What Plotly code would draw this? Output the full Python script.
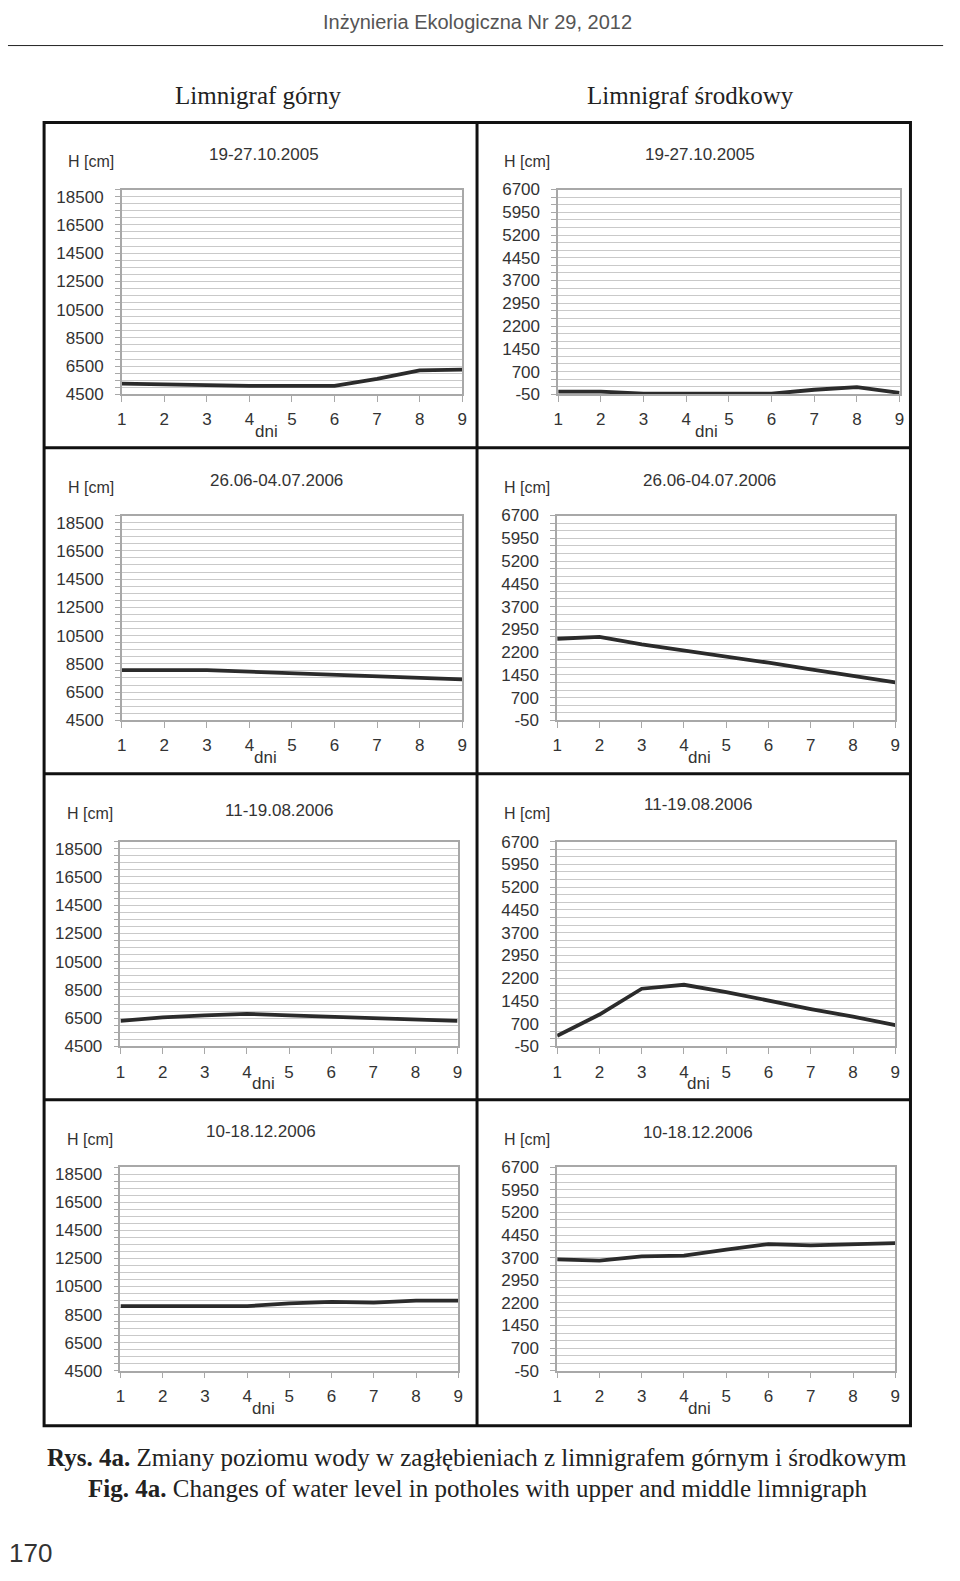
import plotly.graph_objects as go

# ---------------- data ----------------
days = [1, 2, 3, 4, 5, 6, 7, 8, 9]
periods = ["19-27.10.2005", "26.06-04.07.2006", "11-19.08.2006", "10-18.12.2006"]

upper_2005_10 = [5250, 5200, 5100, 5100, 5100, 5100, 5600, 6200, 6250]
upper_2006_06 = [8050, 8050, 8050, 7950, 7850, 7750, 7650, 7500, 7400]
upper_2006_08 = [6300, 6550, 6700, 6800, 6700, 6600, 6500, 6400, 6300]
upper_2006_12 = [9100, 9100, 9100, 9100, 9300, 9400, 9350, 9500, 9500]

middle_2005_10 = [40, 40, -30, -30, -30, -30, 100, 190, 0]
middle_2006_06 = [2640, 2700, 2450, 2260, 2050, 1850, 1630, 1420, 1200]
middle_2006_08 = [300, 1000, 1850, 1980, 1740, 1450, 1180, 930, 650]
middle_2006_12 = [3640, 3600, 3740, 3770, 3970, 4150, 4110, 4130, 4180]

upper_ticks = [4500, 6500, 8500, 10500, 12500, 14500, 16500, 18500]
middle_ticks = [-50, 700, 1450, 2200, 2950, 3700, 4450, 5200, 5950, 6700]
upper_range = [4500, 19000]
middle_range = [-50, 6700]
upper_minor = 500
middle_minor = 250

upper_series = [upper_2005_10, upper_2006_06, upper_2006_08, upper_2006_12]
middle_series = [middle_2005_10, middle_2006_06, middle_2006_08, middle_2006_12]

# ---------------- layout geometry (pixels) ----------------
W, H = 960, 1581


def px(x):
    return x / W


def py(y):
    return 1 - y / H


left_x = [(118, 462), (118, 462), (116.7, 457.3), (116.7, 458)]
right_x = [(559, 904), (558, 899.7), (558, 899.7), (558, 899.7)]
rows_y = [(182.7, 390), (512.7, 720), (842.7, 1050), (1172.3, 1378.3)]

title_L = [(262, 147), (274, 477), (277, 811), (259, 1136)]
title_R = [(702, 147), (712, 477), (700, 805), (700, 1137)]
hcm_L = [(87, 154), (87, 484), (86, 814), (86, 1144)]
hcm_R = [(527, 154), (527, 484), (527, 814), (527, 1144)]
dni_L = [(264, 428), (263, 758), (261, 1088), (261, 1417)]
dni_R = [(709, 428), (702, 758), (701, 1088), (702, 1417)]

GRID = "#c9c9c9"
AXC = "#a8a8a8"
TXT = "#333333"
SANS = "Liberation Sans, Arial, sans-serif"
SERIF = "Liberation Serif, Times New Roman, serif"

fig = go.Figure()
layout = dict(
    width=W, height=H, margin=dict(l=0, r=0, t=0, b=0),
    paper_bgcolor="white", plot_bgcolor="white", showlegend=False,
)
annotations = []
shapes = []

k = 0
for col in range(2):
    for row in range(4):
        k += 1
        sfx = "" if k == 1 else str(k)
        if col == 0:
            ys = upper_series[row]
            xr = left_x[row]
            ticks = upper_ticks
            yrange = upper_range
            minor = upper_minor
            tpos, hpos, dpos = title_L[row], hcm_L[row], dni_L[row]
        else:
            ys = middle_series[row]
            xr = right_x[row]
            ticks = middle_ticks
            yrange = middle_range
            minor = middle_minor
            tpos, hpos, dpos = title_R[row], hcm_R[row], dni_R[row]
        top, bot = rows_y[row]
        fig.add_trace(go.Scatter(
            x=days, y=ys, mode="lines",
            line=dict(color="#2b2b2b", width=3.8),
            xaxis="x" + sfx, yaxis="y" + sfx, hoverinfo="skip",
        ))
        layout["xaxis" + sfx] = dict(
            domain=[px(xr[0]), px(xr[1])], anchor="y" + sfx,
            range=[1, 9], tickvals=days, ticktext=[str(d) for d in days],
            showgrid=False, zeroline=False,
            showline=True, linecolor=AXC, linewidth=1.5, mirror=True,
            ticks="outside", ticklen=6, tickcolor=AXC, tickwidth=1.2,
            tickfont=dict(family=SANS, size=17, color=TXT),
            ticklabelstandoff=3,
        )
        layout["yaxis" + sfx] = dict(
            domain=[py(bot), py(top)], anchor="x" + sfx,
            range=yrange, tickvals=ticks, ticktext=[str(t) for t in ticks],
            showgrid=True, gridcolor=GRID, gridwidth=1.4,
            zeroline=False,
            showline=True, linecolor=AXC, linewidth=1.5, mirror=True,
            ticks="outside", ticklen=5, tickcolor=AXC, tickwidth=1.2,
            tickfont=dict(family=SANS, size=17, color=TXT),
            ticklabelstandoff=8,
            minor=dict(tick0=yrange[0], dtick=minor, showgrid=True,
                       gridcolor=GRID, gridwidth=1.4, ticks="outside",
                       ticklen=5, tickcolor=AXC, tickwidth=1.0),
        )
        annotations.append(dict(
            text=periods[row], x=px(tpos[0]), y=py(tpos[1]),
            xref="paper", yref="paper", xanchor="center", yanchor="middle",
            showarrow=False, font=dict(family=SANS, size=17, color=TXT)))
        annotations.append(dict(
            text="H [cm]", x=px(hpos[0]), y=py(hpos[1]),
            xref="paper", yref="paper", xanchor="center", yanchor="middle",
            showarrow=False, font=dict(family=SANS, size=16, color=TXT)))
        annotations.append(dict(
            text="dni", x=px(dpos[0]), y=py(dpos[1]),
            xref="paper", yref="paper", xanchor="center", yanchor="middle",
            showarrow=False, font=dict(family=SANS, size=17, color=TXT)))

# frame of the panel grid
FL, FR, FT, FB = 39.5, 915, 115, 1434
shapes.append(dict(type="rect", xref="paper", yref="paper",
                   x0=px(FL), x1=px(FR), y0=py(FB), y1=py(FT),
                   line=dict(color="#111111", width=3)))
shapes.append(dict(type="line", xref="paper", yref="paper",
                   x0=px(477), x1=px(477), y0=py(FB), y1=py(FT),
                   line=dict(color="#111111", width=3)))
for yy in (444, 774, 1104):
    shapes.append(dict(type="line", xref="paper", yref="paper",
                       x0=px(FL), x1=px(FR), y0=py(yy), y1=py(yy),
                       line=dict(color="#111111", width=3)))
# header rule
shapes.append(dict(type="line", xref="paper", yref="paper",
                   x0=px(3), x1=px(948), y0=py(37), y1=py(37),
                   line=dict(color="#222222", width=1)))

# page texts
annotations.append(dict(text="Inżynieria Ekologiczna Nr 29, 2012",
                        x=px(477), y=py(13), xref="paper", yref="paper",
                        xanchor="center", yanchor="middle", showarrow=False,
                        font=dict(family=SANS, size=20, color="#555555")))
annotations.append(dict(text="Limnigraf górny", x=px(256), y=py(88),
                        xref="paper", yref="paper", xanchor="center",
                        yanchor="middle", showarrow=False,
                        font=dict(family=SERIF, size=25, color="#222222")))
annotations.append(dict(text="Limnigraf środkowy", x=px(693), y=py(88),
                        xref="paper", yref="paper", xanchor="center",
                        yanchor="middle", showarrow=False,
                        font=dict(family=SERIF, size=25, color="#222222")))
annotations.append(dict(
    text="<b>Rys. 4a.</b> Zmiany poziomu wody w zagłębieniach z limnigrafem górnym i środkowym",
    x=px(477), y=py(1466), xref="paper", yref="paper", xanchor="center",
    yanchor="middle", showarrow=False,
    font=dict(family=SERIF, size=25, color="#222222")))
annotations.append(dict(
    text="<b>Fig. 4a.</b> Changes of water level in potholes with upper and middle limnigraph",
    x=px(478), y=py(1497), xref="paper", yref="paper", xanchor="center",
    yanchor="middle", showarrow=False,
    font=dict(family=SERIF, size=25, color="#222222")))
annotations.append(dict(text="170", x=px(26), y=py(1563), xref="paper",
                        yref="paper", xanchor="center", yanchor="middle",
                        showarrow=False,
                        font=dict(family=SANS, size=26, color="#333333")))

layout["annotations"] = annotations
layout["shapes"] = shapes
fig.update_layout(**layout)
fig.write_html("out.html", config={"displayModeBar": False},
               post_script="document.body.style.margin='0';")
